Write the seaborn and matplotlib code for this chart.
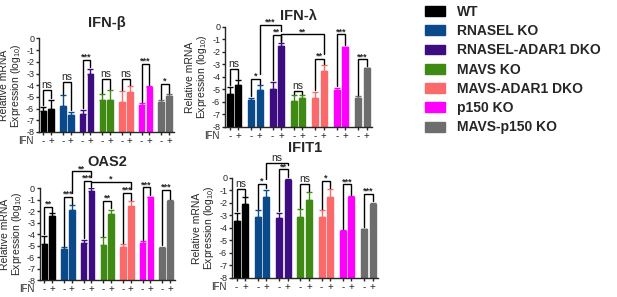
import numpy as np
import pandas as pd
import seaborn as sns
import matplotlib.pyplot as plt
from matplotlib.patches import Patch

groups = ['WT', 'RNASEL KO', 'RNASEL-ADAR1 DKO', 'MAVS KO',
          'MAVS-ADAR1 DKO', 'p150 KO', 'MAVS-p150 KO']
colors = ['#000000', '#0b4a8a', '#3d0c80', '#3f8a12',
          '#fa6a6a', '#ff00ff', '#6d6d6d']
FLOOR = -8

# relative mRNA, log10 means and upper error
ifnb_minus = [-6.2, -5.8, -6.5, -5.3, -5.4, -5.7, -5.45]
ifnb_minus_err = [0.35, 0.95, 0.4, 0.55, 0.9, 0.15, 0.15]
ifnb_plus = [-6.05, -6.55, -3.05, -5.3, -4.6, -4.15, -4.9]
ifnb_plus_err = [0.8, 0.3, 0.45, 0.9, 0.5, 0.05, 0.15]
ifnb_sig = ['ns', 'ns', '***', 'ns', 'ns', '***', '*']
ifnb_sig_y = [-4.4, -3.75, -1.85, -3.45, -3.45, -2.15, -3.9]

ifnl_minus = [-5.4, -5.85, -5.0, -5.95, -5.7, -5.05, -5.65]
ifnl_minus_err = [0.6, 0.2, 0.6, 0.5, 0.5, 0.2, 0.1]
ifnl_plus = [-4.65, -5.05, -1.5, -5.7, -3.55, -1.62, -3.3]
ifnl_plus_err = [0.4, 0.4, 0.25, 0.25, 0.5, 0.05, 0.05]
ifnl_sig = ['ns', '*', '**', 'ns', '**', '***', '***']
ifnl_sig_y = [-3.4, -4.15, -0.65, -5.15, -2.55, -0.6, -2.6]

oas2_minus = [-4.85, -5.3, -4.75, -4.95, -5.1, -4.8, -5.25]
oas2_minus_err = [0.7, 0.15, 0.25, 0.65, 0.2, 0.15, 0.15]
oas2_plus = [-2.4, -1.9, -0.3, -2.25, -1.6, -0.8, -1.1]
oas2_plus_err = [0.2, 0.4, 0.3, 0.35, 0.45, 0.05, 0.05]
oas2_sig = ['**', '***', '***', '**', '***', '***', '***']
oas2_sig_y = [-1.65, -0.8, 0.6, -1.15, -0.45, 0.05, -0.2]

ifit1_minus = [-3.45, -3.1, -3.2, -3.15, -3.1, -4.25, -4.1]
ifit1_minus_err = [0.65, 0.5, 0.4, 0.65, 0.5, 0.05, 0.05]
ifit1_plus = [-2.1, -1.55, -0.2, -1.75, -1.55, -1.5, -2.05]
ifit1_plus_err = [0.55, 0.6, 0.15, 0.6, 0.65, 0.05, 0.05]
ifit1_sig = ['ns', '*', '**', 'ns', '*', '***', '***']
ifit1_sig_y = [-0.9, -0.45, 0.7, -0.5, -0.25, -0.5, -1.25]

# comparisons between "+" bars of two lines: (group a, group b, label, y, leg a, leg b)
ifnl_cross = [(1, 2, '***', 0.15, -3.8, -0.3), (2, 4, '**', -0.6, -1.2, -2.15)]
oas2_cross = [(1, 2, '**', 1.45, -0.45, 0.95), (2, 4, '*', 0.5, 0.5, -0.1)]
ifit1_cross = [(1, 2, 'ns', 1.2, -0.1, 1.05)]

sns.set_style('ticks')
plt.rcParams['font.family'] = ['Liberation Sans', 'DejaVu Sans']
plt.rcParams['mathtext.fontset'] = 'custom'
plt.rcParams['mathtext.rm'] = 'Liberation Sans'
plt.rcParams['axes.unicode_minus'] = False


def bracket(ax, x1, x2, h, y1, y2, label):
    ax.plot([x1, x1, x2, x2], [y1, h, h, y2], color='black', lw=1.0,
            clip_on=False, solid_joinstyle='miter')
    if label == 'ns':
        ax.text((x1 + x2) / 2, h + 0.02, label, ha='center', va='bottom',
                fontsize=7.5, clip_on=False)
    else:
        ax.text((x1 + x2) / 2, h - 0.15, label, ha='center', va='bottom',
                fontsize=6.5, fontweight='bold', clip_on=False)


def draw_panel(ax, title, minus, minus_err, plus, plus_err, sig, sig_y, cross, pad):
    df = pd.DataFrame({'group': groups * 2,
                       'ifn': ['-'] * len(groups) + ['+'] * len(groups),
                       'value': minus + plus})
    df['height'] = df['value'] - FLOOR
    sns.barplot(data=df, x='group', y='height', hue='ifn', order=groups,
                hue_order=['-', '+'], width=0.8, gap=0.3, bottom=FLOOR,
                errorbar=None, legend=False, saturation=1, ax=ax)

    cx = []
    for cont in ax.containers:
        xs = []
        for i, bar in enumerate(cont):
            bar.set_facecolor(colors[i])
            bar.set_edgecolor(colors[i])
            xs.append(bar.get_x() + bar.get_width() / 2)
        cx.append(xs)

    for k, (vals, errs) in enumerate([(minus, minus_err), (plus, plus_err)]):
        for i in range(len(groups)):
            ax.errorbar(cx[k][i], vals[i], yerr=[[0], [errs[i]]], fmt='none',
                        ecolor=colors[i], elinewidth=1.0, capsize=2.0, capthick=1.0)

    for i in range(len(groups)):
        bracket(ax, cx[0][i], cx[1][i], sig_y[i],
                minus[i] + minus_err[i] + 0.12, plus[i] + plus_err[i] + 0.12, sig[i])
    for a, b, lab, h, ya, yb in cross:
        bracket(ax, cx[1][a], cx[1][b], h, ya, yb, lab)

    ax.set_ylim(FLOOR, 0)
    ax.set_xlim(-0.42, len(groups) - 0.55)
    ax.set_yticks(range(FLOOR, 1))
    centers = sorted(cx[0] + cx[1])
    ax.set_xticks(centers, ['-', '+'] * len(groups))
    ax.set_xlabel('')
    ax.set_ylabel('Relative mRNA\nExpression (log$_{10}$)', fontsize=7.5, labelpad=2,
                  linespacing=1.05)
    ax.tick_params(axis='y', length=2.5, width=1, labelsize=6.5, pad=1)
    ax.tick_params(axis='x', length=2, width=1, labelsize=7, pad=1)
    for s in ['left', 'bottom']:
        ax.spines[s].set_linewidth(1.0)
    sns.despine(ax=ax)
    ax.annotate('IFN', xy=(0, 0), xycoords='axes fraction', xytext=(-4, -3),
                textcoords='offset points', ha='right', va='top', fontsize=7)
    ax.set_title(title, fontsize=10.5, fontweight='bold', pad=pad)


fig = plt.figure(figsize=(6.17, 2.97), dpi=100)
ax1 = fig.add_axes([0.0632, 0.5556, 0.2188, 0.3148])
ax2 = fig.add_axes([0.3647, 0.5724, 0.2382, 0.3367])
ax3 = fig.add_axes([0.0648, 0.0572, 0.2188, 0.3098])
ax4 = fig.add_axes([0.3760, 0.0640, 0.2366, 0.3367])

draw_panel(ax1, 'IFN-β', ifnb_minus, ifnb_minus_err, ifnb_plus, ifnb_plus_err,
           ifnb_sig, ifnb_sig_y, [], 8)
draw_panel(ax2, 'IFN-λ', ifnl_minus, ifnl_minus_err, ifnl_plus, ifnl_plus_err,
           ifnl_sig, ifnl_sig_y, ifnl_cross, 5)
draw_panel(ax3, 'OAS2', oas2_minus, oas2_minus_err, oas2_plus, oas2_plus_err,
           oas2_sig, oas2_sig_y, oas2_cross, 16)
draw_panel(ax4, 'IFIT1', ifit1_minus, ifit1_minus_err, ifit1_plus, ifit1_plus_err,
           ifit1_sig, ifit1_sig_y, ifit1_cross, 19)

handles = [Patch(facecolor=c, edgecolor=c) for c in colors]
fig.legend(handles, groups, loc='upper left', bbox_to_anchor=(0.689, 0.984),
           frameon=False, borderpad=0, borderaxespad=0, handlelength=1.44,
           handleheight=0.72, handletextpad=0.86, labelspacing=0.38,
           prop={'weight': 'bold', 'size': 10})

fig.savefig('out.png', dpi=100)
